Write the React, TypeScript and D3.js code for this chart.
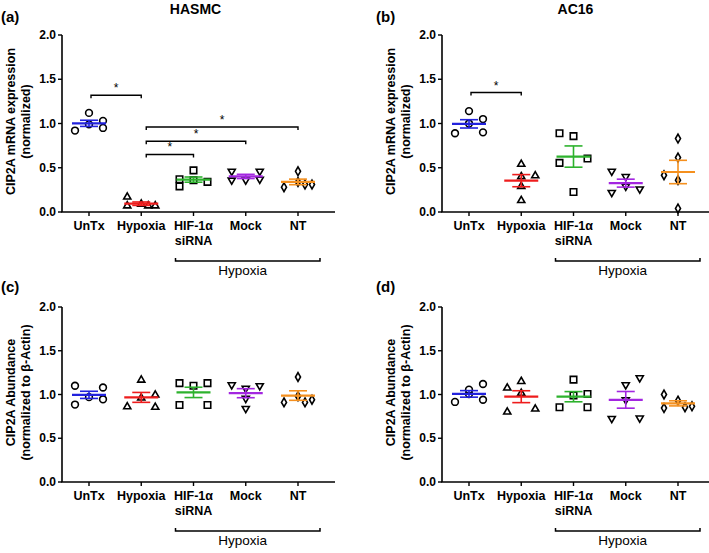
import React from 'react';
import * as d3 from 'd3';

const categories = ['UnTx', 'Hypoxia', 'HIF-1α siRNA', 'Mock', 'NT'];
const yTicks = [0, 0.5, 1.0, 1.5, 2.0];
const groupColors = ['#2222dd', '#ee1c1c', '#2db22d', '#a326e0', '#f5901e'];
const groupShapes = ['circle', 'triangleUp', 'square', 'triangleDown', 'diamond'];

const hasmcMrna = [
  [0.92, 1.12, 0.99, 1.03, 0.95],
  [0.17, 0.07, 0.09, 0.07, 0.07],
  [0.37, 0.29, 0.47, 0.36, 0.34],
  [0.46, 0.36, 0.36, 0.46, 0.37],
  [0.28, 0.46, 0.34, 0.31, 0.31],
];
const ac16Mrna = [
  [0.89, 1.14, 1.0, 1.05, 0.9],
  [0.54, 0.4, 0.29, 0.13, 0.41],
  [0.89, 0.555, 0.857, 0.226, 0.604],
  [0.46, 0.22, 0.4, 0.29, 0.26],
  [0.415, 0.83, 0.615, 0.36, 0.04],
];
const hasmcProtein = [
  [1.1, 0.885, 0.97, 1.08, 0.945],
  [0.86, 1.165, 0.96, 0.995, 0.855],
  [1.13, 0.88, 1.1, 1.13, 0.88],
  [1.11, 1.07, 0.955, 0.84, 1.1],
  [0.91, 1.2, 0.98, 0.91, 0.94],
];
const ac16Protein = [
  [0.915, 1.005, 1.12, 0.94, 1.055],
  [1.075, 0.8, 1.15, 1.015, 0.835],
  [0.855, 1.17, 0.99, 1.005, 0.855],
  [0.725, 1.11, 0.94, 1.19, 0.73],
  [1.0, 0.845, 0.93, 0.855, 0.865],
];

// scatter column slots (layout hint, -1 left, 0 centre, 1 right)
const hasmcMrnaSlots = [[-1, 0, 0, 1, 1], [-1, -1, 0, 0.5, 1], [-1, -1, 0, 0, 1], [-1, -1, 0, 1, 1], [-1, 0, 0, 0.5, 1]];
const ac16MrnaSlots = [[-1, 0, 0, 1, 1], [0, 0, 0, 0, 1], [-1, -1, 0, 0, 1], [-1, -1, 0, 0, 1], [-1, 0, 0, 0, 0]];
const hasmcProteinSlots = [[-1, -1, 0, 1, 1], [-1, 0, 0, 1, 1], [-1, -1, 0, 1, 1], [-1, 0, 0, 0, 1], [-1, 0, 0, 0.5, 1]];
const ac16ProteinSlots = [[-1, 0, 1, 1, 0], [-1, -1, 0, 0, 1], [-1, 0, 0, 1, 1], [-1, 0, 0, 1, 1], [-1, -1, 0, 0.5, 1]];

const hasmcSig = [
  { from: 0, to: 1, level: 1.32 },
  { from: 1, to: 2, level: 0.65 },
  { from: 1, to: 3, level: 0.8 },
  { from: 1, to: 4, level: 0.96 },
];
const ac16Sig = [{ from: 0, to: 1, level: 1.35 }];

const FONT = 'Liberation Sans, Arial, Helvetica, sans-serif';

function symbolPath(shape: string): string {
  const s = d3.symbol();
  if (shape === 'circle') return s.type(d3.symbolCircle).size(36)()!;
  if (shape === 'square') return s.type(d3.symbolSquare).size(42)()!;
  if (shape === 'diamond') return s.type(d3.symbolDiamond).size(22)()!;
  return s.type(d3.symbolTriangle).size(22)()!;
}

type PanelProps = {
  axisX: number;
  top: number;
  bottom: number;
  letter: string;
  letterX: number;
  letterY: number;
  title?: string;
  ylabel: string[];
  data: number[][];
  slots: number[][];
  sig: { from: number; to: number; level: number }[];
};

function Panel(p: PanelProps) {
  const x = d3.scalePoint<string>().domain(categories).range([p.axisX + 27, p.axisX + 236]);
  const y = d3.scaleLinear().domain([0, 2]).range([p.bottom, p.top]);
  const axisEnd = p.axisX + 273;
  const step = 14;
  const midY = (p.top + p.bottom) / 2 - 2;
  return (
    <g fontFamily={FONT} fill="#000">
      <text x={p.letterX} y={p.letterY} fontSize={15} fontWeight="bold">{p.letter}</text>
      {p.title && (
        <text x={(p.axisX + axisEnd) / 2 - 3} y={p.top - 21} fontSize={14} fontWeight="bold" textAnchor="middle">{p.title}</text>
      )}
      {p.ylabel.map((l, i) => (
        <text key={i} transform={`translate(${p.axisX - 47 + i * 15},${midY}) rotate(-90)`} fontSize={12.5} fontWeight="bold" textAnchor="middle">{l}</text>
      ))}
      {/* y axis */}
      <line x1={p.axisX} x2={p.axisX} y1={p.top} y2={p.bottom} stroke="#000" strokeWidth={1.6} />
      {yTicks.map((t) => (
        <g key={t}>
          <line x1={p.axisX - 4} x2={p.axisX} y1={y(t)} y2={y(t)} stroke="#000" strokeWidth={1.4} />
          <text x={p.axisX - 6} y={y(t) + 4} fontSize={12} fontWeight="bold" textAnchor="end">{t.toFixed(1)}</text>
        </g>
      ))}
      {/* x axis */}
      <line x1={p.axisX - 0.8} x2={axisEnd} y1={p.bottom} y2={p.bottom} stroke="#000" strokeWidth={1.6} />
      {categories.map((c) => {
        const cx = x(c)!;
        const parts = c === 'HIF-1α siRNA' ? ['HIF-1α', 'siRNA'] : [c];
        return (
          <g key={c}>
            <line x1={cx} x2={cx} y1={p.bottom} y2={p.bottom + 4} stroke="#000" strokeWidth={1.4} />
            {parts.map((t, i) => (
              <text key={i} x={cx} y={p.bottom + 18 + i * 15} fontSize={12.5} fontWeight="bold" textAnchor="middle">{t}</text>
            ))}
          </g>
        );
      })}
      {/* Hypoxia bracket */}
      {(() => {
        const bx1 = x(categories[2])! - 18;
        const bx2 = x(categories[4])! + 22;
        const by = p.bottom + 49;
        return (
          <g>
            <path d={`M${bx1},${by - 3}V${by}H${bx2}V${by - 3}`} fill="none" stroke="#000" strokeWidth={1.5} />
            <text x={(bx1 + bx2) / 2 - 5} y={by + 14} fontSize={13.5} textAnchor="middle">Hypoxia</text>
          </g>
        );
      })()}
      {/* points */}
      {p.data.map((vals, gi) => {
        const cx = x(categories[gi])!;
        const path = symbolPath(groupShapes[gi]);
        return vals.map((v, j) => (
          <path
            key={`${gi}-${j}`}
            d={path}
            transform={`translate(${cx + p.slots[gi][j] * step},${y(v)})${groupShapes[gi] === 'triangleDown' ? ' rotate(180)' : ''}`}
            fill="#fff"
            stroke="#000"
            strokeWidth={1.6}
          />
        ));
      })}
      {/* mean and SEM */}
      {p.data.map((vals, gi) => {
        const cx = x(categories[gi])!;
        const m = d3.mean(vals)!;
        const sem = d3.deviation(vals)! / Math.sqrt(vals.length);
        const col = groupColors[gi];
        return (
          <g key={gi} stroke={col} fill="none">
            <line x1={cx} x2={cx} y1={y(m - sem)} y2={y(m + sem)} strokeWidth={1.6} />
            <line x1={cx - 9} x2={cx + 9} y1={y(m + sem)} y2={y(m + sem)} strokeWidth={1.6} />
            <line x1={cx - 9} x2={cx + 9} y1={y(m - sem)} y2={y(m - sem)} strokeWidth={1.6} />
            <line x1={cx - 17} x2={cx + 17} y1={y(m)} y2={y(m)} strokeWidth={2.2} />
          </g>
        );
      })}
      {/* significance */}
      {p.sig.map((s, i) => {
        const x1 = x(categories[s.from])! + (s.from === 1 ? 5 : 2);
        const x2 = x(categories[s.to])!;
        const yy = y(s.level);
        return (
          <g key={i}>
            <path d={`M${x1},${yy + 3}V${yy}H${x2}V${yy + 3}`} fill="none" stroke="#000" strokeWidth={1.4} />
            <text x={(x1 + x2) / 2} y={yy - 3} fontSize={12} fill="#000" stroke="none" textAnchor="middle">*</text>
          </g>
        );
      })}
    </g>
  );
}

export default function App() {
  return (
    <svg width={709} height={553} style={{ position: 'absolute', left: 0, top: 0, background: '#fff' }}>
      <rect width={709} height={553} fill="#fff" />
      <Panel axisX={62} top={35} bottom={212} letter="(a)" letterX={1} letterY={22} title="HASMC"
        ylabel={['CIP2A mRNA expression', '(normalized)']} data={hasmcMrna} slots={hasmcMrnaSlots} sig={hasmcSig} />
      <Panel axisX={442} top={35} bottom={212} letter="(b)" letterX={376} letterY={22} title="AC16"
        ylabel={['CIP2A mRNA expression', '(normalized)']} data={ac16Mrna} slots={ac16MrnaSlots} sig={ac16Sig} />
      <Panel axisX={62} top={307} bottom={482} letter="(c)" letterX={1} letterY={292}
        ylabel={['CIP2A Abundance', '(normalized to β-Actin)']} data={hasmcProtein} slots={hasmcProteinSlots} sig={[]} />
      <Panel axisX={442} top={307} bottom={482} letter="(d)" letterX={376} letterY={292}
        ylabel={['CIP2A Abundance', '(normalized to β-Actin)']} data={ac16Protein} slots={ac16ProteinSlots} sig={[]} />
    </svg>
  );
}
